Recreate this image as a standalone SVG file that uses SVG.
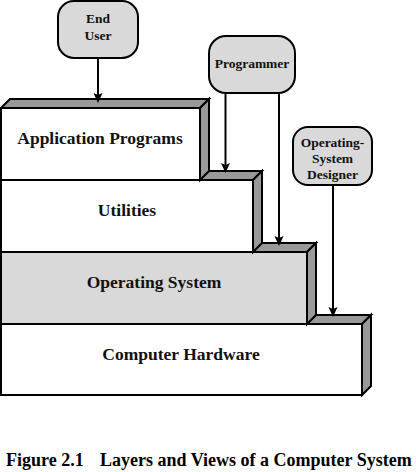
<svg xmlns="http://www.w3.org/2000/svg" width="416" height="472" viewBox="0 0 416 472">
<style>
  .front { fill: #ffffff; stroke: #000; stroke-width: 2; }
  .front.os { fill: #d9d9d9; }
  .face { fill: #999999; stroke: #000; stroke-width: 2; stroke-linejoin: miter; }
  .node { fill: #d9d9d9; stroke: #000; stroke-width: 2; }
  .layer-label { font-family: "Liberation Serif", "Times New Roman", serif; font-weight: bold; font-size: 17.5px; fill: #111; text-anchor: middle; }
  .node-label { font-family: "Liberation Serif", "Times New Roman", serif; font-weight: bold; font-size: 13.5px; fill: #111; text-anchor: middle; }
  .caption { font-family: "Liberation Serif", "Times New Roman", serif; font-weight: bold; font-size: 18px; fill: #000; }
  .conn { stroke: #000; stroke-width: 2; fill: none; }
</style>
<defs>
  <marker id="arrow" markerUnits="userSpaceOnUse" markerWidth="12" markerHeight="10" refX="6" refY="4.5" orient="auto">
    <path d="M0,0 L10,4.5 L0,9 L2,4.5 z" fill="#000"/>
  </marker>
</defs>

<g id="layer-hardware">
  <polygon class="face" points="1,324 10,315 371,315 362,324"/>
  <polygon class="face" points="362,324 371,315 371,386 362,395"/>
  <rect class="front" x="1" y="324" width="361" height="71"/>
  <text class="layer-label" x="181" y="360">Computer Hardware</text>
</g>

<g id="layer-os">
  <polygon class="face" points="1,252 10,243 316,243 307,252"/>
  <polygon class="face" points="307,252 316,243 316,315 307,324"/>
  <rect class="front os" x="1" y="252" width="306" height="72"/>
  <text class="layer-label" x="154" y="288">Operating System</text>
</g>

<g id="layer-utilities">
  <polygon class="face" points="1,180 10,171 262,171 253,180"/>
  <polygon class="face" points="253,180 262,171 262,243 253,252"/>
  <rect class="front" x="1" y="180" width="252" height="72"/>
  <text class="layer-label" x="127" y="216">Utilities</text>
</g>

<g id="layer-applications">
  <polygon class="face" points="1,108 10,99 209,99 200,108"/>
  <polygon class="face" points="200,108 209,99 209,171 200,180"/>
  <rect class="front" x="1" y="108" width="199" height="72"/>
  <text class="layer-label" x="100" y="144">Application Programs</text>
</g>

<g id="end-user">
  <rect class="node" x="58" y="1" width="80" height="57" rx="16" ry="16"/>
  <text class="node-label" x="98" y="23">End</text>
  <text class="node-label" x="98" y="40">User</text>
</g>

<g id="programmer">
  <rect class="node" x="209" y="36" width="86" height="57" rx="17" ry="17"/>
  <text class="node-label" x="252" y="68">Programmer</text>
</g>

<g id="os-designer">
  <rect class="node" x="293" y="127" width="79" height="58" rx="15" ry="15"/>
  <text class="node-label" x="332.5" y="147">Operating-</text>
  <text class="node-label" x="332.5" y="163">System</text>
  <text class="node-label" x="332.5" y="179">Designer</text>
</g>

<g id="connectors">
  <line class="conn" x1="98" y1="58" x2="98" y2="99" marker-end="url(#arrow)"/>
  <line class="conn" x1="225.5" y1="93" x2="225.5" y2="169" marker-end="url(#arrow)"/>
  <line class="conn" x1="279" y1="93" x2="279" y2="242" marker-end="url(#arrow)"/>
  <line class="conn" x1="333" y1="185" x2="333" y2="313" marker-end="url(#arrow)"/>
</g>

<g id="caption">
  <text class="caption" x="6" y="466">Figure 2.1</text>
  <text class="caption" x="100" y="466">Layers and Views of a Computer System</text>
</g>
</svg>
